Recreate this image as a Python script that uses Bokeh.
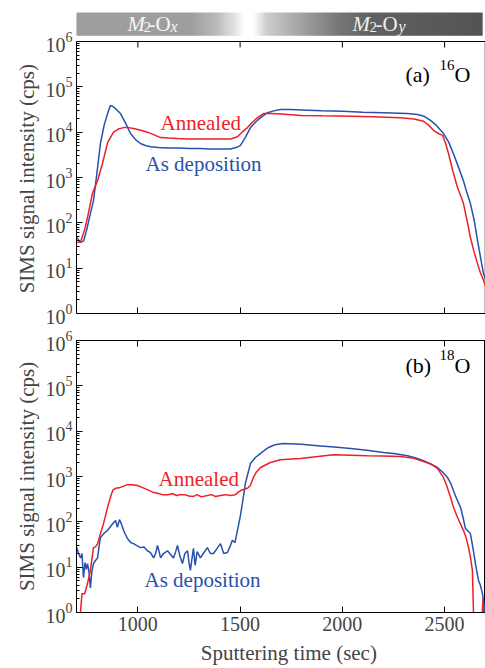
import numpy as np
from bokeh.plotting import figure
from bokeh.models import Label, LinearAxis, FixedTicker, Range1d, Span
from bokeh.layouts import column
from bokeh.embed import file_html
from bokeh.resources import INLINE

# ---------------- data ----------------
# (a) 16O, as deposition
t16_dep = [700, 710, 720, 735, 750, 765, 783, 800, 817, 835, 852, 866, 880, 900, 915, 940, 964, 990,
           1013, 1040, 1062, 1100, 1150, 1200, 1250, 1300, 1350, 1400, 1453, 1480, 1502, 1525, 1551,
           1575, 1600, 1634, 1665, 1697, 1750, 1800, 1900, 2000, 2100, 2200, 2318, 2367, 2400, 2431,
           2460, 2495, 2520, 2543, 2570, 2592, 2610, 2626, 2645, 2661, 2675, 2690, 2700]
i16_dep = [48, 42, 37, 40, 71, 141, 309, 1260, 5620, 14100, 25700, 38900, 36300, 30200, 25700, 15800,
           9330, 6760, 5620, 5010, 4790, 4570, 4470, 4470, 4370, 4370, 4270, 4270, 4270, 4570, 5130,
           7590, 12600, 16600, 20900, 26900, 29500, 31600, 31600, 30900, 29500, 28800, 27500, 26900,
           25700, 24500, 22400, 18200, 14100, 9330, 6030, 3390, 1590, 851, 447, 269, 112, 41, 18, 7.6, 5.6]

# (a) 16O, annealed
t16_ann = [700, 720, 740, 754, 778, 803, 827, 852, 881, 905, 930, 955, 979, 1010, 1047, 1080, 1111,
           1150, 1194, 1250, 1300, 1350, 1400, 1453, 1487, 1510, 1536, 1560, 1585, 1614, 1650, 1700,
           1800, 1900, 2040, 2150, 2284, 2350, 2397, 2420, 2446, 2470, 2490, 2505, 2519, 2540, 2563,
           2580, 2592, 2610, 2626, 2645, 2661, 2675, 2690, 2700]
i16_ann = [37, 38, 71, 132, 447, 851, 2040, 5890, 10000, 11700, 12600, 12600, 12000, 11200, 10000,
           8710, 7590, 7410, 7240, 7080, 7080, 7080, 7080, 7080, 7940, 10000, 12600, 16600, 20900,
           25700, 25700, 25100, 23400, 22900, 22400, 21900, 20900, 19500, 17400, 14500, 11000, 9330,
           8510, 5620, 3390, 1410, 603, 380, 269, 112, 48, 22, 12.6, 7.9, 5.4, 4.0]

# (b) 18O, as deposition
t18_dep = [700, 710, 720, 727, 734, 742, 748, 754, 761, 768, 775, 783, 793, 803, 810, 817, 835, 852,
           866, 881, 891, 900, 910, 920, 930, 940, 949, 965, 979, 995, 1013, 1030, 1047, 1062, 1077,
           1087, 1096, 1104, 1111, 1125, 1145, 1160, 1174, 1185, 1194, 1205, 1218, 1230, 1243, 1250,
           1257, 1265, 1272, 1280, 1290, 1306, 1320, 1340, 1355, 1370, 1385, 1404, 1420, 1438, 1450,
           1462, 1475, 1487, 1500, 1511, 1526, 1540, 1551, 1575, 1600, 1639, 1670, 1712, 1800, 1878,
           1960, 2040, 2120, 2201, 2260, 2318, 2360, 2397, 2430, 2465, 2490, 2514, 2530, 2543, 2560,
           2578, 2590, 2602, 2614, 2626, 2634, 2641, 2650, 2661, 2666, 2675, 2685, 2695, 2700]
i18_dep = [28, 20, 16, 20, 5.9, 12.6, 8.9, 12, 7.9, 3.5, 7.9, 12, 14, 16, 28, 45, 56, 65, 79, 95,
           107, 76, 112, 89, 65, 52, 43, 35, 33, 30, 27, 28, 23, 21, 16, 20, 30, 22, 16, 20, 23, 19,
           16, 22, 30, 18, 12, 20, 23, 12.6, 8.5, 16, 26, 11, 22, 16, 20, 27, 20, 20, 25, 33, 20, 21,
           28, 39, 35, 65, 126, 251, 708, 1260, 1950, 2630, 3240, 4370, 5010, 5370, 5130, 4790, 4470,
           4170, 3800, 3390, 3160, 2880, 2570, 2240, 1910, 1580, 1260, 955, 708, 490, 316, 209, 126,
           71, 63, 55, 35, 23, 12.6, 6.6, 5.1, 4.0, 2.6, 1.26, 0.8]

# (b) 18O, annealed
t18_ann = [705, 715, 720, 727, 740, 754, 768, 783, 793, 803, 817, 832, 852, 866, 878, 891, 915, 949,
           975, 998, 1020, 1047, 1070, 1096, 1120, 1145, 1170, 1190, 1204, 1230, 1250, 1272, 1290,
           1310, 1340, 1360, 1380, 1404, 1430, 1450, 1477, 1490, 1502, 1536, 1550, 1565, 1580, 1600,
           1648, 1697, 1795, 1880, 1957, 2040, 2123, 2200, 2284, 2350, 2397, 2435, 2465, 2494, 2510,
           2529, 2545, 2563, 2578, 2592, 2605, 2617, 2627, 2636, 2641, 2650, 2670, 2680, 2688, 2692, 2700]
i18_ann = [0.3, 0.6, 1.1, 2.6, 2.6, 4.4, 8.5, 27, 28, 33, 55, 91, 209, 347, 501, 550, 575, 661, 661,
           631, 575, 513, 457, 427, 398, 398, 417, 380, 398, 398, 372, 363, 398, 355, 380, 398, 363,
           380, 398, 380, 398, 447, 490, 550, 631, 955, 1260, 1580, 2040, 2340, 2510, 2750, 3020,
           2950, 2880, 2820, 2750, 2510, 2140, 1860, 1510, 955, 631, 347, 200, 126, 89, 65, 45, 27,
           15.8, 8.5, 1.1, 0.3, 0.3, 0.5, 2.0, 0.3, 0.3]

x_ticks = [1000, 1500, 2000, 2500]
y_major = [1, 10, 100, 1e3, 1e4, 1e5, 1e6]
y_minor = [m * 10 ** k for k in range(6) for m in range(2, 10)]

# gradient header bar (grey level stops along the time axis)
bar_x = [695, 1260, 1380, 1470, 1520, 1565, 1630, 1810, 1975, 2140, 2685]
bar_gray = [158, 158, 185, 225, 255, 255, 205, 160, 120, 97, 84]

FONT = "Liberation Serif"
BLUE = "#2a50ad"
RED = "#ee1f27"
NB = "\u00a0"
PX_PER_DEC = 272 / 6.0          # vertical scale of each panel (pixels per decade)
EXTRA_TOP = 29                  # header strip height above panel (a), in pixels


def style_axes(p, show_x_labels):
    p.xgrid.visible = False
    p.ygrid.visible = False
    p.border_fill_color = "white"
    xa = p.xaxis[0]
    xa.ticker = FixedTicker(ticks=x_ticks)
    xa.major_tick_in = 6
    xa.major_tick_out = 0
    xa.minor_tick_line_color = None
    xa.axis_line_color = "black"
    xa.major_label_text_font = FONT
    if show_x_labels:
        xa.major_label_text_font_size = "20px"
        xa.major_label_standoff = 4
        xa.axis_label = NB * 3 + "Sputtering time (sec)"
        xa.axis_label_text_font = FONT
        xa.axis_label_text_font_size = "21px"
        xa.axis_label_text_font_style = "normal"
        xa.axis_label_standoff = 7
    else:
        xa.major_label_text_font_size = "1px"
        xa.major_label_text_color = None
        xa.major_label_standoff = 0

    ya = p.yaxis[0]
    ya.ticker = FixedTicker(ticks=y_major, minor_ticks=y_minor)
    ya.major_tick_in = 6
    ya.major_tick_out = 0
    ya.minor_tick_in = 3
    ya.minor_tick_out = 0
    ya.major_label_text_font = FONT
    ya.major_label_text_font_size = "20px"
    ya.major_label_standoff = 4
    ya.axis_label_text_font = FONT
    ya.axis_label_text_font_size = "21px"
    ya.axis_label_text_font_style = "normal"
    ya.axis_label_standoff = 4


def label(p, x, y, text, size="21px", color="black", style="normal"):
    p.add_layout(Label(x=x, y=y, x_units="canvas", y_units="canvas", text=text,
                       text_font=FONT, text_font_size=size, text_color=color,
                       text_font_style=style, text_baseline="alphabetic"))


# ---------------- top panel (with header strip inside its frame) ----------------
y_top = 10 ** (6 + EXTRA_TOP / PX_PER_DEC)
p1 = figure(width=485, height=327, x_range=Range1d(700, 2700), y_range=Range1d(1, y_top),
            y_axis_type="log", output_backend="svg", toolbar_location=None,
            min_border_left=76, min_border_right=0, min_border_top=12, min_border_bottom=14)
style_axes(p1, False)
p1.outline_line_color = None
p1.yaxis[0].bounds = (1, 1e6)
# label centred on the lower (data) part of the frame: pad its top end
p1.yaxis[0].axis_label = "SIMS signal intensity (cps)" + NB * 6

# frame of panel (a): top edge, right edge, top ticks
p1.add_layout(Span(location=1e6, dimension="width", line_color="black", line_width=1))
p1.segment(x0=[2700], y0=[1], x1=[2700], y1=[1e6], line_color="black", line_width=1.5)
tick_len = 10 ** (6 / PX_PER_DEC)
p1.segment(x0=x_ticks, y0=[1e6] * len(x_ticks), x1=x_ticks, y1=[1e6 / tick_len] * len(x_ticks),
           line_color="black", line_width=1)

# header gradient strip
edges = np.arange(bar_x[0], bar_x[-1], 6.0)
grays = [int(round(np.interp(e + 3, bar_x, bar_gray))) for e in edges]
cols = ["#%02x%02x%02x" % (g, g, g) for g in grays]
p1.quad(left=edges, right=np.minimum(edges + 14, bar_x[-1]),
        bottom=10 ** (6 + 6 / PX_PER_DEC), top=y_top, fill_color=cols, line_color=None)

p1.line(t16_dep, i16_dep, line_color=BLUE, line_width=1.5)
p1.line(t16_ann, i16_ann, line_color=RED, line_width=1.5)

label(p1, 127, 23, "M", color="#f6f6f6", style="italic")
label(p1, 143, 26, "2", size="15px", color="#f6f6f6")
label(p1, 148, 23, "-O", color="#f6f6f6")
label(p1, 170, 26, "x", size="16px", color="#f6f6f6", style="italic")
label(p1, 352, 23, "M", color="#eeeeee", style="italic")
label(p1, 369, 26, "2", size="15px", color="#eeeeee")
label(p1, 375, 23, "-O", color="#eeeeee")
label(p1, 398, 26, "y", size="16px", color="#eeeeee", style="italic")

label(p1, 405, 74, "(a)", size="22px")
label(p1, 439, 64, "16", size="15px")
label(p1, 454, 74, "O", size="22px")
label(p1, 160, 122, "Annealed", color=RED)
label(p1, 145, 163, "As deposition", color=BLUE)

# ---------------- bottom panel ----------------
p2 = figure(width=485, height=341, x_range=Range1d(700, 2700), y_range=Range1d(1, 1e6),
            y_axis_type="log", output_backend="svg", toolbar_location=None,
            min_border_left=76, min_border_right=0, min_border_top=13, min_border_bottom=56)
style_axes(p2, True)
p2.outline_line_color = "black"
p2.yaxis[0].axis_label = "SIMS signal intensity (cps)"
ta = LinearAxis(ticker=FixedTicker(ticks=x_ticks), major_tick_in=6, major_tick_out=0,
                minor_tick_line_color=None, major_label_text_font_size="1px",
                major_label_text_color=None, major_label_standoff=0)
p2.add_layout(ta, "above")

p2.line(t18_dep, i18_dep, line_color=BLUE, line_width=1.5)
p2.line(t18_ann, i18_ann, line_color=RED, line_width=1.5)

label(p2, 405, 38, "(b)", size="22px")
label(p2, 439, 27, "18", size="15px")
label(p2, 454, 38, "O", size="22px")
label(p2, 158, 151, "Annealed", color=RED)
label(p2, 144, 252, "As deposition", color=BLUE)

layout = column(p1, p2, spacing=0)
open("out.html", "w").write(file_html(layout, INLINE))
